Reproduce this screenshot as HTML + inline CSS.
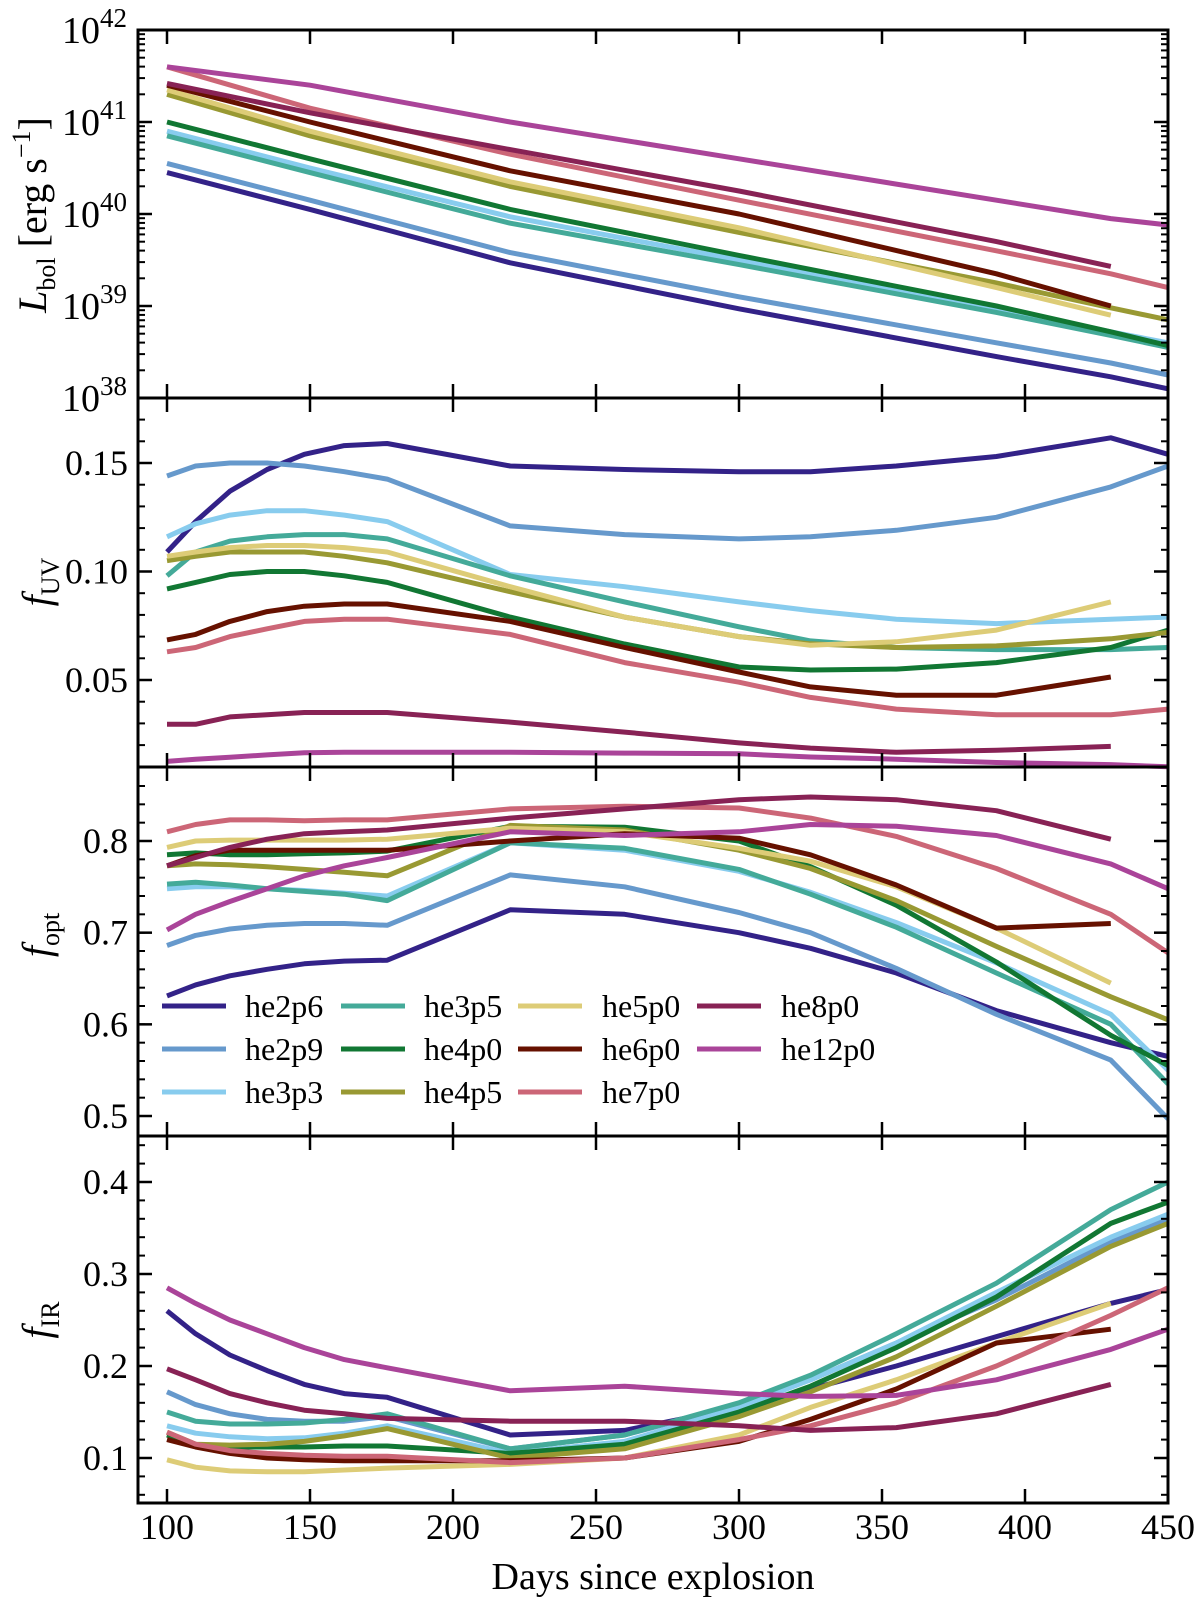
<!DOCTYPE html>
<html><head><meta charset="utf-8"><style>
body{margin:0;background:#fff;}
svg text{font-family:"Liberation Serif",serif;fill:#000;}
</style></head><body>
<svg id="chart" width="1200" height="1600" xmlns="http://www.w3.org/2000/svg"></svg>
<script>
const SERIES = ['he2p6','he2p9','he3p3','he3p5','he4p0','he4p5','he5p0','he6p0','he7p0','he8p0','he12p0'];
const COLORS = ['#332288','#6699CC','#88CCEE','#44AA99','#117733','#999933','#DDCC77','#661100','#CC6677','#882255','#AA4499'];
const L_DAYS = [100,150,220,300,390,430,450];
const LOGL = [
 [40.45,40.05,39.47,38.97,38.45,38.23,38.1],
 [40.55,40.15,39.58,39.1,38.6,38.38,38.25],
 [40.9,40.5,39.97,39.5,38.98,38.72,38.6],
 [40.85,40.45,39.9,39.45,38.93,38.68,38.55],
 [41.0,40.6,40.05,39.55,39.0,38.72,38.57],
 [41.3,40.85,40.3,39.8,39.25,38.98,38.85],
 [41.35,40.9,40.35,39.85,39.2,38.9,null],
 [41.4,41.0,40.47,40.0,39.35,39.0,null],
 [41.6,41.15,40.65,40.15,39.6,39.35,39.2],
 [41.42,41.1,40.7,40.25,39.7,39.43,null],
 [41.6,41.4,41.0,40.6,40.15,39.95,39.88]
];
const DAYS = [100,110,122,135,148,162,177,220,260,300,325,355,390,430,450];
const FUV = [
 [0.109,0.123,0.137,0.147,0.154,0.158,0.159,0.1486,0.147,0.146,0.146,0.1486,0.153,0.1616,0.154],
 [0.144,0.1486,0.15,0.15,0.1486,0.146,0.1426,0.121,0.117,0.115,0.116,0.119,0.125,0.139,0.1486],
 [0.116,0.122,0.126,0.128,0.128,0.126,0.123,0.0986,0.093,0.086,0.082,0.078,0.076,0.078,0.079],
 [0.098,0.109,0.114,0.116,0.117,0.117,0.115,0.098,0.086,0.0745,0.068,0.065,0.064,0.064,0.065],
 [0.092,0.095,0.0986,0.1,0.1,0.098,0.095,0.079,0.0666,0.056,0.0546,0.055,0.058,0.065,0.073],
 [0.105,0.107,0.109,0.109,0.109,0.107,0.104,0.0907,0.079,0.07,0.0667,0.065,0.0657,0.069,0.072],
 [0.107,0.109,0.111,0.112,0.112,0.111,0.109,0.093,0.079,0.07,0.066,0.0676,0.073,0.086,null],
 [0.0685,0.071,0.077,0.0815,0.084,0.085,0.085,0.077,0.065,0.0537,0.0468,0.043,0.043,0.0514,null],
 [0.063,0.065,0.070,0.0736,0.077,0.078,0.078,0.071,0.058,0.049,0.042,0.0366,0.034,0.034,0.0366],
 [0.0296,0.0296,0.033,0.034,0.035,0.035,0.035,0.0306,0.026,0.021,0.0186,0.0167,0.0176,0.0194,null],
 [0.0125,0.0135,0.0144,0.0155,0.0165,0.0167,0.0167,0.0167,0.0163,0.016,0.0145,0.0135,0.012,0.011,0.010]
];
const FOPT = [
 [0.631,0.643,0.653,0.66,0.666,0.669,0.67,0.725,0.72,0.7,0.683,0.656,0.615,0.58,0.565],
 [0.686,0.697,0.704,0.708,0.71,0.71,0.708,0.763,0.75,0.722,0.7,0.661,0.611,0.561,0.497],
 [0.748,0.75,0.75,0.748,0.746,0.743,0.74,0.798,0.79,0.767,0.744,0.711,0.667,0.611,0.55],
 [0.753,0.755,0.752,0.748,0.745,0.742,0.735,0.798,0.792,0.769,0.742,0.706,0.656,0.6,0.535],
 [0.785,0.787,0.785,0.785,0.786,0.787,0.789,0.816,0.815,0.8,0.772,0.73,0.668,0.588,0.555],
 [0.773,0.775,0.774,0.772,0.769,0.766,0.762,0.817,0.812,0.79,0.77,0.735,0.685,0.63,0.605],
 [0.793,0.8,0.801,0.801,0.801,0.801,0.802,0.814,0.81,0.792,0.778,0.75,0.705,0.645,null],
 [0.773,0.784,0.79,0.79,0.79,0.79,0.79,0.8,0.808,0.803,0.785,0.752,0.705,0.71,null],
 [0.81,0.818,0.823,0.823,0.822,0.823,0.823,0.835,0.838,0.836,0.825,0.805,0.77,0.72,0.678],
 [0.773,0.782,0.793,0.802,0.808,0.81,0.812,0.825,0.835,0.845,0.848,0.845,0.833,0.802,null],
 [0.703,0.72,0.734,0.748,0.762,0.773,0.782,0.81,0.806,0.81,0.818,0.816,0.806,0.775,0.748]
];
const FIR = [
 [0.26,0.235,0.212,0.195,0.18,0.17,0.166,0.125,0.13,0.155,0.175,0.2,0.232,0.268,0.283],
 [0.172,0.158,0.148,0.142,0.14,0.14,0.145,0.11,0.125,0.158,0.185,0.225,0.272,0.335,0.36],
 [0.135,0.127,0.123,0.121,0.122,0.127,0.135,0.105,0.118,0.155,0.185,0.225,0.28,0.34,0.365],
 [0.15,0.14,0.137,0.137,0.138,0.142,0.148,0.11,0.125,0.16,0.19,0.235,0.29,0.37,0.4],
 [0.125,0.114,0.112,0.112,0.112,0.113,0.113,0.105,0.115,0.15,0.178,0.22,0.275,0.355,0.378],
 [0.128,0.115,0.114,0.115,0.118,0.124,0.132,0.1,0.11,0.145,0.172,0.21,0.265,0.33,0.355],
 [0.098,0.09,0.086,0.085,0.085,0.087,0.089,0.093,0.1,0.125,0.155,0.185,0.225,0.268,null],
 [0.12,0.112,0.105,0.1,0.098,0.097,0.097,0.097,0.1,0.118,0.142,0.175,0.225,0.24,null],
 [0.128,0.115,0.108,0.105,0.103,0.102,0.102,0.095,0.1,0.12,0.135,0.16,0.2,0.255,0.285],
 [0.197,0.185,0.17,0.16,0.152,0.148,0.143,0.14,0.14,0.135,0.13,0.133,0.148,0.18,null],
 [0.285,0.268,0.25,0.235,0.22,0.207,0.198,0.173,0.178,0.17,0.167,0.168,0.185,0.218,0.24]
];
const X_TICKS = [100,150,200,250,300,350,400,450];

const NS='http://www.w3.org/2000/svg';
const svg=document.getElementById('chart');
function mk(tag,attrs,parent){const e=document.createElementNS(NS,tag);for(const k in attrs)e.setAttribute(k,attrs[k]);(parent||svg).appendChild(e);return e;}
const X0=138,X1=1168;
const xs=d=>167+(d-100)*(1168-167)/350;

const panels=[
 {name:'lbol',top:30,bot:398,y:v=>30+(42-v)*92,days:L_DAYS,data:LOGL,ticks:[38,39,40,41,42],log:true},
 {name:'fuv',top:398,bot:767,y:v=>463+(0.15-v)*2170,days:DAYS,data:FUV,ticks:[0.05,0.10,0.15],fmt:v=>v.toFixed(2),minorStep:0.01,lo:0.02,hi:0.17},
 {name:'fopt',top:767,bot:1136,y:v=>841+(0.8-v)*916.7,days:DAYS,data:FOPT,ticks:[0.5,0.6,0.7,0.8],fmt:v=>v.toFixed(1),minorStep:0.02,lo:0.48,hi:0.87},
 {name:'fir',top:1136,bot:1503,y:v=>1182+(0.4-v)*920,days:DAYS,data:FIR,ticks:[0.1,0.2,0.3,0.4],fmt:v=>v.toFixed(1),minorStep:0.02,lo:0.06,hi:0.44}
];

panels.forEach((p,pi)=>{
 const g=mk('g',{});
 
 
 p.data.forEach((vals,si)=>{
  let d='';
  vals.forEach((v,i)=>{if(v===null)return;d+=(d?'L':'M')+xs(p.days[i]).toFixed(1)+','+p.y(v).toFixed(1);});
  const path=mk('path',{d:d,fill:'none',stroke:COLORS[si],'stroke-width':5,'stroke-linejoin':'round'},g);
  
  
 });
 if(p.log){
  for(let dec=38;dec<42;dec++)for(let m=2;m<=9;m++){
   const yy=p.y(dec+Math.log10(m));
   mk('line',{x1:X0,x2:X0+7,y1:yy,y2:yy,stroke:'#000','stroke-width':2},g);
   mk('line',{x1:X1,x2:X1-7,y1:yy,y2:yy,stroke:'#000','stroke-width':2},g);
  }
 } else {
  for(let v=p.lo;v<=p.hi+1e-9;v+=p.minorStep){
   const yy=p.y(v); if(yy<p.top+2||yy>p.bot-2)continue;
   mk('line',{x1:X0,x2:X0+7,y1:yy,y2:yy,stroke:'#000','stroke-width':2},g);
   mk('line',{x1:X1,x2:X1-7,y1:yy,y2:yy,stroke:'#000','stroke-width':2},g);
  }
 }
 p.ticks.forEach(v=>{
  const yy=p.y(v);
  mk('line',{x1:X0,x2:X0+14,y1:yy,y2:yy,stroke:'#000','stroke-width':2.5},g);
  mk('line',{x1:X1,x2:X1-14,y1:yy,y2:yy,stroke:'#000','stroke-width':2.5},g);
  let t;
  if(p.log){
   t=mk('text',{x:127,y:yy+13,'text-anchor':'end','font-size':38},g);
   t.innerHTML='10<tspan dy="-16" font-size="27">'+v+'</tspan>';
  } else {
   t=mk('text',{x:128,y:yy+12,'text-anchor':'end','font-size':36},g);
   t.textContent=p.fmt(v);
  }
  
  
 });
 X_TICKS.forEach(d=>{
  const xx=xs(d);
  mk('line',{x1:xx,x2:xx,y1:p.bot,y2:p.bot-14,stroke:'#000','stroke-width':2.5},g);
  mk('line',{x1:xx,x2:xx,y1:p.top,y2:p.top+14,stroke:'#000','stroke-width':2.5},g);
 });
 const fr=mk('rect',{x:X0,y:p.top,width:X1-X0,height:p.bot-p.top,fill:'none',stroke:'#000','stroke-width':3},g);
 
 
});

X_TICKS.forEach(d=>{
 const t=mk('text',{x:xs(d),y:1539,'text-anchor':'middle','font-size':36});
 t.textContent=d;
 
 
});

const LEG_COLS=[[162,245],[341,424],[518,602],[697,781]];
const LEG_ROWS=[1006,1049,1092];
const lg=mk('g',{});


SERIES.forEach((s,i)=>{
 const c=Math.floor(i/3),r=i%3;
 const [lx,tx]=LEG_COLS[c];const yy=LEG_ROWS[r];
 const e=mk('g',{},lg);
 
 
 mk('line',{x1:lx,x2:lx+64,y1:yy,y2:yy,stroke:COLORS[i],'stroke-width':5},e);
 const t=mk('text',{x:tx,y:yy+11,'font-size':32},e);
 t.textContent=s;
});
</script>
<div style="position:absolute;left:0;top:0;width:1200px;height:1600px;pointer-events:none;">
<svg width="1200" height="1600" xmlns="http://www.w3.org/2000/svg" style="position:absolute;left:0;top:0">
<text x="653" y="1589" text-anchor="middle" font-size="38" font-family="Liberation Serif, serif">Days since explosion</text>
<text transform="translate(46,215) rotate(-90)" text-anchor="middle" font-size="40" font-family="Liberation Serif, serif"><tspan font-style="italic">L</tspan><tspan font-size="26" dy="9">bol</tspan><tspan dy="-9"> [erg s</tspan><tspan font-size="26" dy="-16">−1</tspan><tspan dy="16">]</tspan></text>
<text transform="translate(50,582) rotate(-90)" text-anchor="middle" font-size="40" font-family="Liberation Serif, serif"><tspan font-style="italic">f</tspan><tspan font-size="26" dy="9">UV</tspan></text>
<text transform="translate(50,935) rotate(-90)" text-anchor="middle" font-size="40" font-family="Liberation Serif, serif"><tspan font-style="italic">f</tspan><tspan font-size="26" dy="9">opt</tspan></text>
<text transform="translate(50,1320) rotate(-90)" text-anchor="middle" font-size="40" font-family="Liberation Serif, serif"><tspan font-style="italic">f</tspan><tspan font-size="26" dy="9">IR</tspan></text>
</svg></div>
</body></html>
